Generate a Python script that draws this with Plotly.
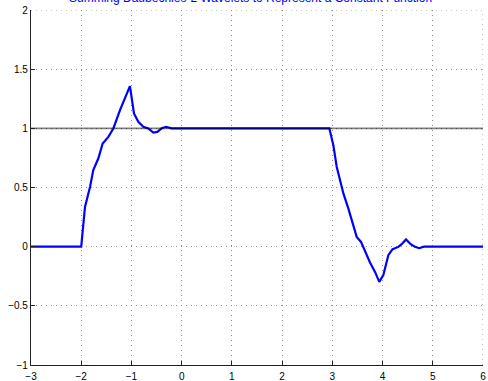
import plotly.graph_objects as go

# Summed Daubechies-2 wavelet approximation of a constant (box) function
x_vals = [-3.0, -2.0, -1.925, -1.825, -1.76, -1.66, -1.573, -1.46, -1.36, -1.228, -1.03,
          -0.95, -0.863, -0.764, -0.664, -0.565, -0.485, -0.398, -0.31, -0.2,
          2.94, 3.02, 3.087, 3.14, 3.22, 3.318, 3.405, 3.485, 3.571, 3.65, 3.75, 3.85,
          3.935, 4.015, 4.07, 4.115, 4.2, 4.314, 4.38, 4.467, 4.56, 4.646, 4.73, 4.825, 6.0]
y_vals = [0.0, 0.0, 0.336, 0.505, 0.647, 0.745, 0.872, 0.928, 0.999, 1.154, 1.357,
          1.126, 1.055, 1.013, 0.999, 0.965, 0.97, 1.0, 1.013, 1.0,
          1.0, 0.858, 0.675, 0.576, 0.45, 0.323, 0.196, 0.083, 0.04, -0.044, -0.134, -0.213,
          -0.297, -0.241, -0.142, -0.072, -0.021, -0.002, 0.021, 0.061, 0.021, 0.0, -0.013, 0.0, 0.0]

# Target constant level
const_x = [-3, 6]
const_y = [1, 1]

x_ticks = [-3, -2, -1, 0, 1, 2, 3, 4, 5, 6]
y_ticks = [-1, -0.5, 0, 0.5, 1, 1.5, 2]
y_tick_text = ["\u22121", "\u22120.5", "0", "0.5", "1", "1.5", "2"]

title_text = "Summing Daubechies-2 Wavelets to Represent a Constant Function"

GRID = "#8c8c8c"
DOT = "1px,4px"

fig = go.Figure()
fig.add_trace(go.Scatter(x=x_vals, y=y_vals, mode="lines",
                         line=dict(color="#0000FF", width=2.2), hoverinfo="skip"))
fig.add_trace(go.Scatter(x=const_x, y=const_y, mode="lines",
                         line=dict(color="rgba(0,0,0,0.5)", width=1.6), hoverinfo="skip"))

axis_common = dict(
    showgrid=True, gridcolor=GRID, griddash=DOT, gridwidth=1,
    zeroline=False, showline=True, linecolor="#222222", linewidth=1.2,
    ticks="inside", ticklen=4, tickcolor="#222222", tickwidth=1,
    tickfont=dict(family="Liberation Sans, Arial, sans-serif", size=10, color="#000000"),
    mirror=False, automargin=False,
)

fig.update_layout(
    width=488, height=381,
    margin=dict(l=31, r=5, t=10, b=16),
    paper_bgcolor="white", plot_bgcolor="white",
    showlegend=False,
    xaxis=dict(range=[-3, 6], tickvals=x_ticks, ticktext=[str(v).replace("-", "\u2212") for v in x_ticks],
               ticklabelstandoff=2, **axis_common),
    yaxis=dict(range=[-1, 2], tickvals=y_ticks, ticktext=y_tick_text, **axis_common),
    annotations=[dict(text=title_text, xref="paper", yref="paper", x=0.485, y=1.012,
                      xanchor="center", yanchor="bottom", showarrow=False, borderpad=0,
                      font=dict(family="Liberation Sans, Arial, sans-serif", size=12, color="#0000FF"))],
    shapes=[
        dict(type="line", xref="x", yref="y", x0=-3, x1=6, y0=2, y1=2,
             line=dict(color=GRID, width=1, dash=DOT), layer="below"),
        dict(type="line", xref="x", yref="y", x0=6, x1=6, y0=-1, y1=2,
             line=dict(color=GRID, width=1, dash=DOT), layer="below"),
    ],
)

fig.write_html("out.html")
